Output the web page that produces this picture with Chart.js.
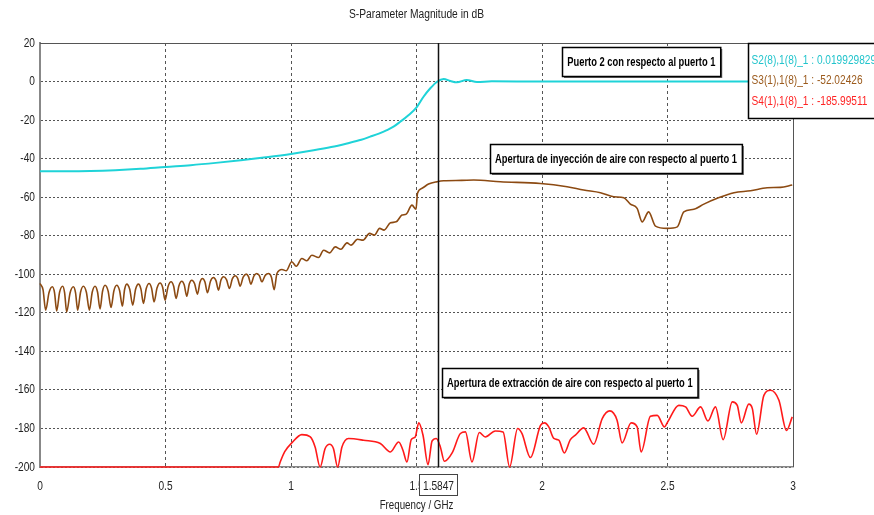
<!DOCTYPE html>
<html>
<head>
<meta charset="utf-8">
<script src="https://cdn.jsdelivr.net/npm/chart.js@4.4.1/dist/chart.umd.min.js"></script>
<style>
    html, body { margin: 0; padding: 0; background: #fff; }
    #wrap { width: 874px; height: 515px; }
</style>
</head>
<body>
<div id="wrap"><canvas id="chart" width="874" height="515"></canvas></div>
<script>
// Frequency (GHz) / magnitude (dB)
const s21Freq = [0, 0.1, 0.2, 0.3, 0.4, 0.5, 0.6, 0.7, 0.8, 0.9, 1.0, 1.09, 1.16, 1.223, 1.28, 1.316, 1.35, 1.382, 1.41, 1.435,
    1.469, 1.502, 1.528, 1.555, 1.582, 1.608, 1.635, 1.661, 1.70, 1.741, 1.8, 2.0, 2.5, 3.0];
const s21Db = [-46.5, -46.5, -46.4, -46.0, -45.3, -44.3, -43.4, -42.2, -40.8, -39.3, -37.6, -35.7, -34.0, -32.1, -30.2, -28.6, -27.0, -25.2, -23.3, -20.9,
    -17.4, -13.1, -7.9, -3.5, -0.1, 1.3, 0.3, -0.4, 0.8, -0.2, 0.1, 0.0, 0.0, 0.0];

const s31Freq = [0, 0.012, 0.0226, 0.036, 0.0492, 0.058, 0.0665, 0.078, 0.0904, 0.098, 0.1063, 0.12, 0.1329, 0.1415, 0.1502,
    0.1615, 0.1728, 0.1848, 0.1967, 0.208, 0.2193, 0.2292, 0.2392, 0.2492, 0.2592, 0.2712, 0.2831, 0.2944, 0.3057, 0.317,
    0.3283, 0.337, 0.3456, 0.3575, 0.3695, 0.3808, 0.3921, 0.402, 0.412, 0.4233, 0.4346, 0.4445, 0.4545, 0.4665, 0.4785,
    0.4885, 0.4984, 0.5103, 0.5223, 0.5323, 0.5423, 0.5536, 0.5649, 0.5748, 0.5848, 0.5947, 0.6047, 0.616, 0.6273, 0.6373,
    0.6473, 0.6572, 0.6672, 0.6792, 0.6911, 0.7011, 0.7111, 0.721, 0.731, 0.743, 0.7549, 0.7662, 0.7775, 0.7875, 0.7974,
    0.8094, 0.8214, 0.8307, 0.84, 0.852, 0.8639, 0.874, 0.8838, 0.897, 0.9104, 0.922, 0.933,
    0.944, 0.964, 0.981, 1.003, 1.021, 1.043, 1.063, 1.083, 1.11, 1.13, 1.154, 1.176, 1.199, 1.223, 1.239, 1.265, 1.287,
    1.313, 1.332, 1.353, 1.371, 1.396, 1.419, 1.442, 1.459, 1.482, 1.498, 1.504, 1.522, 1.548, 1.582, 1.608, 1.68, 1.728,
    1.834, 1.994, 2.1, 2.166, 2.233, 2.286, 2.326, 2.352, 2.379, 2.399, 2.425, 2.452, 2.499, 2.539, 2.565, 2.605, 2.645,
    2.698, 2.765, 2.831, 2.897, 2.95, 2.997];
const s31Db = [-104.8, -108.0, -118.6, -109.5, -106.5, -109.6, -119.0, -109.3, -106.2, -109.5, -119.5, -109.6, -106.5, -109.5, -118.6,
    -109.3, -106.2, -109.3, -118.6, -109.3, -106.2, -109.2, -118.0, -108.8, -105.7, -108.6, -117.2, -108.6, -105.7, -108.4,
    -116.5, -107.9, -105.1, -107.8, -116.0, -107.8, -105.1, -107.6, -115.1, -107.4, -104.8, -107.2, -114.3, -107.0, -104.5,
    -106.7, -113.4, -106.3, -103.9, -106.1, -112.6, -105.9, -103.6, -105.6, -111.4, -105.1, -103.1, -104.9, -110.3, -104.2,
    -102.2, -104.0, -109.6, -103.6, -101.7, -103.3, -108.2, -103.0, -101.3, -102.8, -107.4, -102.4, -100.8, -102.1, -106.2,
    -101.5, -99.9, -101.2, -105.1, -101.0, -99.6, -100.7, -103.9, -100.6, -99.6, -101.5, -108.0,
    -99.6, -97.5, -98.2, -93.5, -95.8, -91.8, -93.0, -90.1, -91.3, -87.5, -88.9, -85.8, -87.0, -83.7, -84.9, -81.8, -82.3,
    -78.8, -79.7, -76.2, -77.1, -73.3, -72.8, -69.3, -68.8, -64.1, -66.3, -58.0, -55.4, -53.2, -52.0, -51.5, -51.3, -51.1,
    -52.0, -52.9, -54.6, -56.3, -57.7, -59.8, -60.3, -63.6, -65.8, -72.8, -67.6, -75.0, -76.2, -75.4, -67.6, -66.3, -63.6,
    -60.6, -57.7, -56.7, -55.1, -54.9, -53.7];

const s41Freq = [0, 0.95, 0.957, 0.975, 1.003, 1.043, 1.077, 1.096, 1.116, 1.136, 1.154, 1.169, 1.186, 1.203, 1.229, 1.289,
    1.356, 1.396, 1.429, 1.446, 1.462, 1.479, 1.495, 1.509, 1.526, 1.546, 1.562, 1.579, 1.595, 1.611, 1.642, 1.675, 1.695,
    1.721, 1.75, 1.774, 1.814, 1.845, 1.871, 1.903, 1.92, 1.954, 1.994, 2.01, 2.027, 2.047, 2.067, 2.089, 2.113, 2.133,
    2.166, 2.206, 2.24, 2.27, 2.299, 2.319, 2.355, 2.379, 2.395, 2.432, 2.459, 2.488, 2.501, 2.545, 2.572, 2.598, 2.632,
    2.661, 2.691, 2.722, 2.758, 2.778, 2.794, 2.824, 2.838, 2.855, 2.884, 2.911, 2.944, 2.974, 2.997];
const s41Db = [-200, -200, -197.4, -192.0, -187.5, -183.2, -184.4, -189.6, -200, -190.4, -188.2, -190.4, -200, -189.6, -185.2, -186.1,
    -187.8, -192.2, -187.0, -191.3, -197.4, -185.8, -184.4, -177.1, -183.5, -198.8, -186.5, -185.2, -189.6, -197.0, -192.7, -182.6, -181.8,
    -197.4, -182.1, -184.4, -181.3, -181.8, -200, -180.0, -182.6, -195.1, -178.4, -177.1, -179.2, -185.2, -186.1, -192.7, -185.8, -183.5,
    -179.7, -188.2, -174.9, -170.9, -175.7, -187.5, -177.1, -179.2, -192.2, -173.7, -173.2, -179.2, -176.6, -168.0, -168.8, -173.7, -168.8,
    -176.1, -168.8, -185.8, -166.2, -168.0, -177.1, -167.4, -169.7, -183.0, -162.8, -160.2, -165.4, -181.0, -174.0];

const xTicks = [0, 0.5, 1, 1.5, 2, 2.5, 3];
const yTicks = [20, 0, -20, -40, -60, -80, -100, -120, -140, -160, -180, -200];

const markerFreq = 1.5847;
const legendNames = ['S2(8),1(8)_1', 'S3(1),1(8)_1', 'S4(1),1(8)_1'];
const legendValues = ['0.019929829', '-52.02426', '-185.99511'];
const seriesColors = ['#1fd3d8', '#8c4a12', '#ff1a1a'];
const legendColors = ['#22c4cc', '#9b5a1c', '#ff2424'];

const chartTitle = 'S-Parameter Magnitude in dB';
const xTitle = 'Frequency / GHz';

const notes = [
    { text: 'Puerto 2 con respecto al puerto 1', f: 2.396, db: 10.4 },
    { text: 'Apertura de inyección de aire con respecto al puerto 1', f: 2.295, db: -40 },
    { text: 'Apertura de extracción de aire con respecto al puerto 1', f: 2.111, db: -156.3 }
];

const FONT = "'Liberation Sans', Arial, sans-serif";
const NARROW = 0.78;

function pairs(xs, ys) {
    return xs.map((x, i) => ({ x: x, y: ys[i] }));
}

// the original uses a narrow face; squeeze Liberation Sans horizontally
function narrowText(ctx, text, x, y, sx) {
    ctx.save();
    ctx.translate(x, y);
    ctx.scale(sx, 1);
    ctx.fillText(text, 0, 0);
    ctx.restore();
}

const decorPlugin = {
    id: 'decor',
    beforeDatasetsDraw(chart) {
        const { ctx, chartArea: a } = chart;
        ctx.save();
        ctx.strokeStyle = '#555';
        ctx.lineWidth = 1;
        ctx.beginPath();
        ctx.moveTo(a.left, a.top + 0.5);
        ctx.lineTo(a.right + 0.5, a.top + 0.5);
        ctx.lineTo(a.right + 0.5, a.bottom);
        ctx.stroke();
        ctx.restore();
    },
    afterDatasetsDraw(chart) {
        const { ctx, chartArea: a } = chart;
        const x = Math.round(chart.scales.x.getPixelForValue(markerFreq)) + 0.5;
        ctx.save();
        ctx.strokeStyle = '#111';
        ctx.lineWidth = 1.5;
        ctx.beginPath();
        ctx.moveTo(x, a.top);
        ctx.lineTo(x, a.bottom);
        ctx.stroke();
        ctx.restore();
    },
    afterDraw(chart) {
        const { ctx, chartArea: a } = chart;
        const xs = chart.scales.x, ys = chart.scales.y;
        const midX = (a.left + a.right) / 2;
        ctx.save();
        ctx.fillStyle = '#222';
        ctx.textBaseline = 'middle';

        // titles
        ctx.textAlign = 'center';
        ctx.font = '12.5px ' + FONT;
        narrowText(ctx, chartTitle, midX, 15, 0.82);
        narrowText(ctx, xTitle, midX, 506, NARROW);

        // tick labels
        ctx.font = '13px ' + FONT;
        xTicks.forEach(v => narrowText(ctx, String(v), xs.getPixelForValue(v), a.bottom + 19, NARROW));
        ctx.textAlign = 'right';
        yTicks.forEach(v => narrowText(ctx, String(v), a.left - 5, ys.getPixelForValue(v), NARROW));

        // text boxes
        ctx.textAlign = 'center';
        ctx.font = 'bold 13px ' + FONT;
        notes.forEach(n => {
            const cx = xs.getPixelForValue(n.f);
            const cy = ys.getPixelForValue(n.db);
            const w = ctx.measureText(n.text).width * 0.72 + 10;
            const h = 29;
            const bx = Math.round(cx - w / 2) + 0.5, by = Math.round(cy - h / 2) + 0.5;
            ctx.fillStyle = '#666';
            ctx.fillRect(bx + 1.5, by + 1.5, w, h);
            ctx.fillStyle = '#fff';
            ctx.fillRect(bx, by, w, h);
            ctx.strokeStyle = '#000';
            ctx.lineWidth = 1.5;
            ctx.strokeRect(bx, by, w, h);
            ctx.fillStyle = '#000';
            narrowText(ctx, n.text, cx, cy + 1, 0.72);
        });

        // marker readout
        const mx = xs.getPixelForValue(markerFreq);
        ctx.font = '13px ' + FONT;
        const lw = 38, lh = 21;
        const lx = Math.round(mx - 19) + 0.5, ly = a.bottom + 7.5;
        ctx.fillStyle = '#fff';
        ctx.fillRect(lx, ly, lw, lh);
        ctx.strokeStyle = '#444';
        ctx.lineWidth = 1;
        ctx.strokeRect(lx, ly, lw, lh);
        ctx.fillStyle = '#222';
        narrowText(ctx, markerFreq.toFixed(4), lx + lw / 2, ly + lh / 2 + 1, NARROW);

        // value legend at marker
        const gx = a.right - 44.5, gy = a.top + 0.5;
        ctx.fillStyle = '#fff';
        ctx.fillRect(gx, gy, 200, 75);
        ctx.strokeStyle = '#000';
        ctx.lineWidth = 1.5;
        ctx.strokeRect(gx, gy, 200, 75);
        ctx.textAlign = 'left';
        legendNames.forEach((name, i) => {
            ctx.fillStyle = legendColors[i];
            narrowText(ctx, name + ' : ' + legendValues[i], gx + 3, gy + 16.5 + i * 20.7, NARROW);
        });
        ctx.restore();
    }
};

new Chart(document.getElementById('chart'), {
    type: 'line',
    data: {
        datasets: [
            { label: legendNames[0], data: pairs(s21Freq, s21Db), borderColor: seriesColors[0], borderWidth: 2, cubicInterpolationMode: 'monotone' },
            { label: legendNames[1], data: pairs(s31Freq, s31Db), borderColor: seriesColors[1], borderWidth: 1.6, cubicInterpolationMode: 'monotone' },
            { label: legendNames[2], data: pairs(s41Freq, s41Db), borderColor: seriesColors[2], borderWidth: 1.6, cubicInterpolationMode: 'monotone' }
        ]
    },
    options: {
        responsive: false,
        animation: false,
        clip: false,
        elements: { point: { radius: 0 } },
        layout: { padding: { top: 43, right: 81 } },
        plugins: {
            legend: { display: false },
            tooltip: { enabled: false },
            title: { display: false }
        },
        scales: {
            x: {
                type: 'linear',
                min: 0,
                max: 3,
                afterBuildTicks: s => { s.ticks = xTicks.map(v => ({ value: v })); },
                afterFit: s => { s.height = 48; },
                ticks: { display: false },
                grid: { color: '#555', lineWidth: 1, drawTicks: false },
                border: { display: true, color: '#888', width: 1.5, dash: [3, 3] }
            },
            y: {
                type: 'linear',
                min: -200,
                max: 20,
                afterBuildTicks: s => { s.ticks = yTicks.map(v => ({ value: v })); },
                afterFit: s => { s.width = 40; },
                ticks: { display: false },
                grid: { color: '#555', lineWidth: 1, drawTicks: false },
                border: { display: true, color: '#888', width: 2, dash: [2, 2] }
            }
        }
    },
    plugins: [decorPlugin]
});
</script>
</body>
</html>
